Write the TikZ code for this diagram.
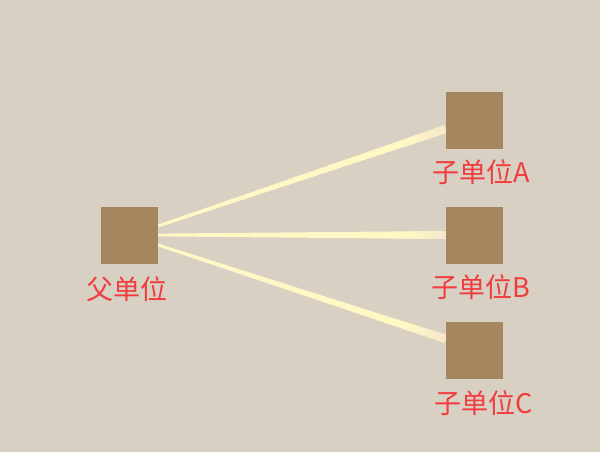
\documentclass[tikz,border=0pt]{standalone}
\usepackage{fontspec}
\newfontfamily\cjk{Noto Sans CJK SC}
\usetikzlibrary{calc}
\pgfdeclarelayer{back}
\pgfdeclarelayer{beams}
\pgfsetlayers{back,beams,main}
\definecolor{bgc}{HTML}{D9D0C4}
\definecolor{boxc}{HTML}{A4875F}
\definecolor{lblc}{HTML}{F03C3C}
\definecolor{beamc}{HTML}{FFF8C4}
\definecolor{beamendc}{HTML}{F6E6CC}
\newcommand\drawbeam[2]{%
  \fill[beamc] ($(#1)!1.4pt!90:(#2)$) -- ($(#2)!4pt!-90:(#1)$) -- ($(#2)!4pt!90:(#1)$) -- ($(#1)!1.4pt!-90:(#2)$) -- cycle;
  \coordinate (m) at ($(#1)!0.86!(#2)$);
  \shade[left color=beamc, right color=beamendc] ($(m)!3.6pt!90:(#2)$) -- ($(#2)!4pt!-90:(#1)$) -- ($(#2)!4pt!90:(#1)$) -- ($(m)!3.6pt!-90:(#2)$) -- cycle;
}
\begin{document}
\begin{tikzpicture}[x=1pt,y=-1pt,
  unit/.style={fill=boxc, minimum size=57pt, inner sep=0pt, draw=none},
  lab/.style={text=lblc, font=\cjk\fontsize{27}{27}\selectfont, inner sep=0pt, anchor=center}]
\useasboundingbox (0,0) rectangle (600,452);
\begin{pgfonlayer}{back}
\fill[bgc] (0,0) rectangle (600,452);
\end{pgfonlayer}
\node[unit] (p) at (129.5,235) {};
\node[unit] (a) at (474.5,120.5) {};
\node[unit] (b) at (474.5,235) {};
\node[unit] (c) at (474.5,350.5) {};
\node[lab] (lp) at ($(p.south)+(-2.5,25.5)$) {父单位};
\node[lab] (la) at ($(a.south)+(6.5,23)$) {子单位A};
\node[lab] (lb) at ($(b.south)+(6.5,23.5)$) {子单位B};
\node[lab] (lc) at ($(c.south)+(9.5,24)$) {子单位C};
\coordinate (pa) at ($(p.east)+(0,-9)$);
\coordinate (qa) at ($(a.west)+(0,8.5)$);
\coordinate (pb) at (p.east);
\coordinate (qb) at (b.west);
\coordinate (pc) at ($(p.east)+(0,10)$);
\coordinate (qc) at ($(c.west)+(0,-11.5)$);
\begin{pgfonlayer}{beams}
\drawbeam{pa}{qa}
\drawbeam{pb}{qb}
\drawbeam{pc}{qc}
\end{pgfonlayer}
\end{tikzpicture}
\end{document}
